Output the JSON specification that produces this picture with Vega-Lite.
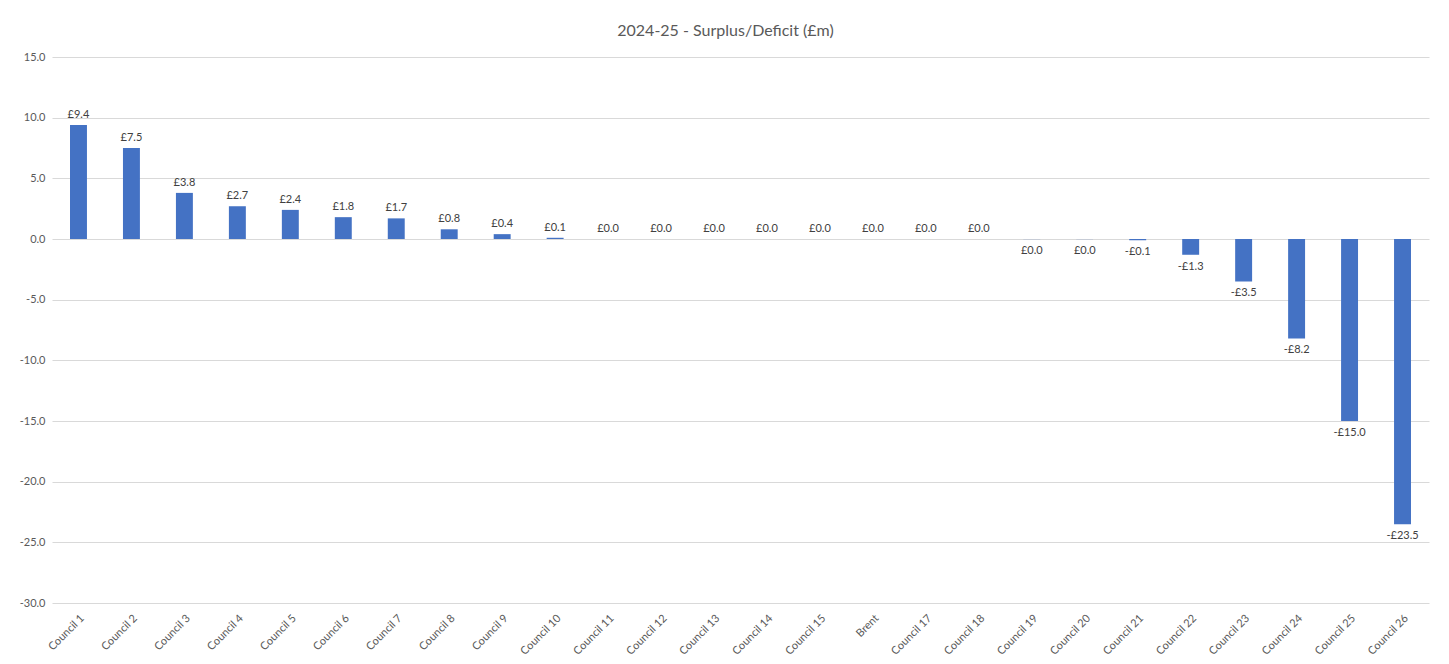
{
  "$schema": "https://vega.github.io/schema/vega-lite/v6.json",
  "width": 1377,
  "height": 546,
  "autosize": {"type": "none"},
  "padding": {"left": 52, "top": 57, "right": 20, "bottom": 61},
  "background": "white",
  "title": {
    "text": "2024-25 - Surplus/Deficit (£m)",
    "font": "Lato",
    "fontSize": 16,
    "fontWeight": "normal",
    "color": "#595959",
    "anchor": "middle",
    "dx": -15,
    "offset": 12
  },
  "config": {
    "view": {"stroke": null},
    "font": "Lato"
  },
  "data": {
    "values": [
      {"council": "Council 1", "surplus": 9.4},
      {"council": "Council 2", "surplus": 7.5},
      {"council": "Council 3", "surplus": 3.8},
      {"council": "Council 4", "surplus": 2.7},
      {"council": "Council 5", "surplus": 2.4},
      {"council": "Council 6", "surplus": 1.8},
      {"council": "Council 7", "surplus": 1.7},
      {"council": "Council 8", "surplus": 0.8},
      {"council": "Council 9", "surplus": 0.4},
      {"council": "Council 10", "surplus": 0.1},
      {"council": "Council 11", "surplus": 0.0},
      {"council": "Council 12", "surplus": 0.0},
      {"council": "Council 13", "surplus": 0.0},
      {"council": "Council 14", "surplus": 0.0},
      {"council": "Council 15", "surplus": 0.0},
      {"council": "Brent", "surplus": 0.0},
      {"council": "Council 17", "surplus": 0.0},
      {"council": "Council 18", "surplus": 0.0},
      {"council": "Council 19", "surplus": -0.01},
      {"council": "Council 20", "surplus": -0.01},
      {"council": "Council 21", "surplus": -0.1},
      {"council": "Council 22", "surplus": -1.3},
      {"council": "Council 23", "surplus": -3.5},
      {"council": "Council 24", "surplus": -8.2},
      {"council": "Council 25", "surplus": -15.0},
      {"council": "Council 26", "surplus": -23.5}
    ]
  },
  "transform": [
    {"calculate": "(datum.surplus <= -0.05 ? '-£' : '£') + format(abs(datum.surplus), '.1f')", "as": "label"}
  ],
  "encoding": {
    "x": {
      "field": "council",
      "type": "nominal",
      "sort": null,
      "scale": {"paddingInner": 0.68, "paddingOuter": 0.34},
      "axis": {
        "title": null,
        "labelAngle": -45,
        "labelFontSize": 11,
        "labelColor": "#595959",
        "labelPadding": 9,
        "domain": false,
        "ticks": false,
        "grid": false
      }
    },
    "y": {
      "field": "surplus",
      "type": "quantitative",
      "scale": {"domain": [-30, 15], "nice": false, "zero": true},
      "axis": {
        "title": null,
        "values": [-30, -25, -20, -15, -10, -5, 0, 5, 10, 15],
        "labelExpr": "(datum.value < 0 ? '-' : '') + format(abs(datum.value), '.1f')",
        "labelFontSize": 11,
        "labelColor": "#595959",
        "labelPadding": 7,
        "domain": false,
        "ticks": false,
        "grid": true,
        "gridColor": "#d9d9d9",
        "gridWidth": 1
      }
    }
  },
  "layer": [
    {
      "mark": {"type": "bar", "color": "#4472C4"}
    },
    {
      "transform": [{"filter": "datum.surplus >= 0"}],
      "mark": {"type": "text", "baseline": "bottom", "dy": -5, "fontSize": 11, "color": "#404040"},
      "encoding": {"text": {"field": "label"}}
    },
    {
      "transform": [{"filter": "datum.surplus < 0"}],
      "mark": {"type": "text", "baseline": "top", "dy": 6, "fontSize": 11, "color": "#404040"},
      "encoding": {"text": {"field": "label"}}
    }
  ]
}
